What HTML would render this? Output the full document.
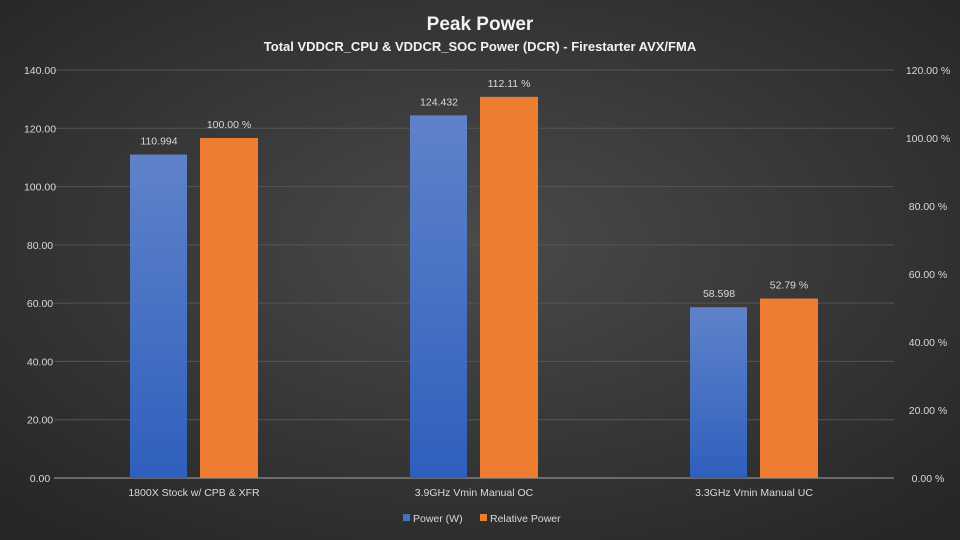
<!DOCTYPE html>
<html><head><meta charset="utf-8"><style>
body{margin:0;width:960px;height:540px;overflow:hidden;background:#333}
svg{display:block}
svg text{font-family:"Liberation Sans",sans-serif}
</style></head><body>
<svg width="960" height="540">
<defs>
<radialGradient id="bg" cx="50%" cy="45%" r="70%"><stop offset="0" stop-color="#4a4a4a"/><stop offset="1" stop-color="#262626"/></radialGradient>
<linearGradient id="blue" x1="0" y1="0" x2="0" y2="1"><stop offset="0" stop-color="#5f83ca"/><stop offset="1" stop-color="#2f5fbd"/></linearGradient>
</defs>
<rect width="960" height="540" fill="url(#bg)"/>
<text x="480" y="30" text-anchor="middle" fill="#f2f2f2" font-size="19" font-weight="bold">Peak Power</text>
<text x="480" y="51" text-anchor="middle" fill="#f2f2f2" font-size="13" font-weight="bold">Total VDDCR_CPU &amp; VDDCR_SOC Power (DCR) - Firestarter AVX/FMA</text>
<g id="grid"></g><g id="bars"></g><g id="labels"></g>
<rect x="403" y="514" width="7" height="7" fill="#4472c4"/>
<text x="413" y="522" fill="#d9d9d9" font-size="10.5">Power (W)</text>
<rect x="480" y="514" width="7" height="7" fill="#ed7d31"/>
<text x="490" y="522" fill="#d9d9d9" font-size="10.5">Relative Power</text>
</svg>
<script>
const categories=["1800X Stock w/ CPB & XFR","3.9GHz Vmin Manual OC","3.3GHz Vmin Manual UC"];
const powerW=[110.994,124.432,58.598];
const relPower=[100.00,112.11,52.79];
const leftTicks=[0,20,40,60,80,100,120,140];
const rightTicks=[0,20,40,60,80,100,120];
const X0=54,X1=894,Y0=478,Y1=70;
const yL=v=>Y0-v/140*(Y0-Y1), yR=v=>Y0-v/120*(Y0-Y1);
const cw=(X1-X0)/categories.length, cx=i=>X0+cw*(i+0.5);
const NS="http://www.w3.org/2000/svg";
function mk(p,t,a,txt){const e=document.createElementNS(NS,t);for(const k in a)e.setAttribute(k,a[k]);if(txt!=null)e.textContent=txt;document.getElementById(p).appendChild(e);return e;}
leftTicks.forEach(v=>{
 if(v>0){const g=mk('grid','line',{x1:X0,x2:X1,y1:yL(v),y2:yL(v),stroke:'#555','stroke-width':1});
 
 }
 const t=mk('labels','text',{x:40,y:yL(v)+4,'text-anchor':'middle',fill:'#d9d9d9','font-size':10.5},v.toFixed(2));
 
 
});
rightTicks.forEach(v=>{
 const t=mk('labels','text',{x:928,y:yR(v)+4,'text-anchor':'middle',fill:'#d9d9d9','font-size':10.5},v.toFixed(2)+' %');
 
 
});
const ax=mk('grid','line',{x1:X0,x2:X1,y1:Y0,y2:Y0,stroke:'#a6a6a6','stroke-width':1});


categories.forEach((c,i)=>{
 const b=mk('bars','rect',{x:cx(i)-64,y:yL(powerW[i]),width:57,height:Y0-yL(powerW[i]),fill:'url(#blue)'});
 
 
 const o=mk('bars','rect',{x:cx(i)+6,y:yR(relPower[i]),width:58,height:Y0-yR(relPower[i]),fill:'#ed7d31'});
 
 
 const l1=mk('labels','text',{x:cx(i)-35,y:yL(powerW[i])-10,'text-anchor':'middle',fill:'#d9d9d9','font-size':10.5},powerW[i].toFixed(3));
 
 
 const l2=mk('labels','text',{x:cx(i)+35,y:yR(relPower[i])-10,'text-anchor':'middle',fill:'#d9d9d9','font-size':10.5},relPower[i].toFixed(2)+' %');
 
 
 const cl=mk('labels','text',{x:cx(i),y:496,'text-anchor':'middle',fill:'#d9d9d9','font-size':10.5},c);
 
 
});
</script>
</body></html>
